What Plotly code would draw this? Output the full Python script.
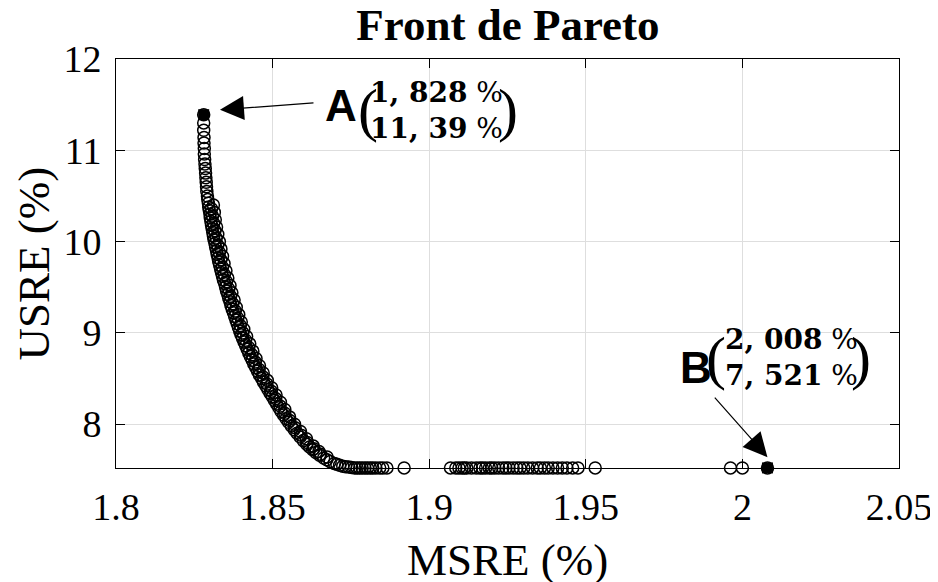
import plotly.graph_objects as go

# Pareto front (MSRE %, USRE %)
curve_x = [1.8280, 1.8280, 1.8280, 1.8281, 1.8281, 1.8282, 1.8282, 1.8283, 1.8284, 1.8285,
           1.8286, 1.8287, 1.8288, 1.8289, 1.8290, 1.8292, 1.8293, 1.8295, 1.8296, 1.8298,
           1.8300, 1.8301, 1.8303, 1.8305, 1.8307, 1.8309, 1.8311, 1.8313, 1.8316, 1.8318,
           1.8321, 1.8323, 1.8326, 1.8328, 1.8331, 1.8334, 1.8337, 1.8340, 1.8343, 1.8347,
           1.8350, 1.8353, 1.8357, 1.8360, 1.8364, 1.8367, 1.8371, 1.8375, 1.8379, 1.8383,
           1.8387, 1.8391, 1.8395, 1.8399, 1.8404, 1.8409, 1.8414, 1.8419, 1.8424, 1.8429,
           1.8435, 1.8440, 1.8446, 1.8452, 1.8458, 1.8465, 1.8471, 1.8478, 1.8485, 1.8492,
           1.8499, 1.8506, 1.8513, 1.8520, 1.8527, 1.8535, 1.8543, 1.8551, 1.8560, 1.8569,
           1.8578, 1.8588, 1.8598, 1.8609, 1.8618, 1.8628, 1.8638, 1.8650, 1.8663, 1.8673,
           1.8684, 1.8697, 1.8705, 1.8714, 1.8724, 1.8733, 1.8743, 1.8752]
curve_y = [11.39, 11.30, 11.22, 11.14, 11.08, 11.02, 10.96, 10.90, 10.85, 10.80,
           10.75, 10.70, 10.65, 10.60, 10.55, 10.50, 10.46, 10.42, 10.38, 10.34,
           10.30, 10.26, 10.22, 10.18, 10.14, 10.10, 10.06, 10.02, 9.98, 9.94,
           9.90, 9.86, 9.82, 9.78, 9.74, 9.70, 9.66, 9.62, 9.58, 9.54,
           9.50, 9.46, 9.42, 9.38, 9.34, 9.30, 9.26, 9.22, 9.18, 9.14,
           9.10, 9.06, 9.02, 8.98, 8.94, 8.90, 8.86, 8.82, 8.78, 8.74,
           8.70, 8.66, 8.62, 8.58, 8.54, 8.50, 8.46, 8.42, 8.38, 8.34,
           8.30, 8.26, 8.22, 8.18, 8.14, 8.10, 8.06, 8.02, 7.98, 7.94,
           7.90, 7.86, 7.82, 7.78, 7.75, 7.72, 7.69, 7.66, 7.63, 7.61,
           7.59, 7.57, 7.56, 7.55, 7.54, 7.535, 7.53, 7.525]

# shifted tracks of solutions that make the band thick
band_x = [1.8311, 1.8314, 1.8317, 1.8321, 1.8325, 1.8330, 1.8335, 1.8340, 1.8345, 1.8351,
          1.8357, 1.8364, 1.8370, 1.8377, 1.8384, 1.8392, 1.8400, 1.8408, 1.8417, 1.8427,
          1.8437, 1.8447, 1.8458, 1.8470, 1.8483, 1.8497, 1.8511, 1.8525, 1.8539, 1.8554,
          1.8570, 1.8589, 1.8608, 1.8630, 1.8648, 1.8674]
band_y = [10.40, 10.32, 10.24, 10.16, 10.08, 10.00, 9.92, 9.84, 9.76, 9.68,
          9.60, 9.52, 9.44, 9.36, 9.28, 9.20, 9.12, 9.04, 8.96, 8.88,
          8.80, 8.72, 8.64, 8.56, 8.48, 8.40, 8.32, 8.24, 8.16, 8.08,
          8.00, 7.92, 7.84, 7.76, 7.70, 7.64]
mid_x = [1.8305, 1.8308, 1.8312, 1.8316, 1.8320, 1.8325, 1.8330, 1.8335, 1.8340, 1.8346,
         1.8353, 1.8360, 1.8366, 1.8373, 1.8381, 1.8389, 1.8397, 1.8405, 1.8414, 1.8424,
         1.8434, 1.8445, 1.8457, 1.8469, 1.8482, 1.8496, 1.8510, 1.8524, 1.8539, 1.8555,
         1.8572, 1.8591, 1.8611, 1.8632, 1.8653]
mid_y = [10.36, 10.28, 10.20, 10.12, 10.04, 9.96, 9.88, 9.80, 9.72, 9.64,
         9.56, 9.48, 9.40, 9.32, 9.24, 9.16, 9.08, 9.00, 8.92, 8.84,
         8.76, 8.68, 8.60, 8.52, 8.44, 8.36, 8.28, 8.20, 8.12, 8.04,
         7.96, 7.88, 7.80, 7.73, 7.67]

# points lying on the USRE floor
floor_x = [1.8762, 1.8770, 1.8778, 1.8786, 1.8795, 1.8803, 1.8812, 1.8820, 1.8830, 1.8842,
           1.8852, 1.8865, 1.8920, 1.9068, 1.9085, 1.9095, 1.9105, 1.9112, 1.9120, 1.9135,
           1.9150, 1.9162, 1.9170, 1.9180, 1.9192, 1.9200, 1.9210, 1.9222, 1.9235, 1.9245,
           1.9255, 1.9268, 1.9280, 1.9290, 1.9302, 1.9315, 1.9330, 1.9345, 1.9355, 1.9368,
           1.9380, 1.9395, 1.9410, 1.9425, 1.9440, 1.9458, 1.9475, 1.9530, 1.9962, 2.0000,
           2.0080]
floor_y = [7.521] * len(floor_x)

# extreme points
ext_names = ["A", "B"]
ext_x = [1.828, 2.008]
ext_y = [11.39, 7.521]

x_ticks = [1.8, 1.85, 1.9, 1.95, 2.0, 2.05]
x_ticktext = ["1.8", "1.85", "1.9", "1.95", "2", "2.05"]
y_ticks = [8, 9, 10, 11, 12]

serif = "Liberation Serif"

fig = go.Figure()
fig.add_trace(go.Scatter(
    x=curve_x + band_x + mid_x + floor_x, y=curve_y + band_y + mid_y + floor_y,
    mode="markers",
    marker=dict(symbol="circle-open", size=12, color="black", line=dict(width=1.5)),
    cliponaxis=False, showlegend=False))
fig.add_trace(go.Scatter(
    x=ext_x, y=ext_y, mode="markers",
    marker=dict(symbol="square", size=11, color="black"),
    cliponaxis=False, showlegend=False))

axis_common = dict(
    showline=True, linecolor="black", linewidth=1, mirror="ticks",
    ticks="inside", ticklen=9, tickcolor="black", tickwidth=1,
    showgrid=True, gridcolor="#dedede", gridwidth=1, zeroline=False,
    automargin=False,
    tickfont=dict(family=serif, size=38, color="black"),
)

# the page body adds an 8 px offset, margins compensate for it
fig.update_layout(
    width=938, height=582,
    paper_bgcolor="white", plot_bgcolor="white",
    margin=dict(l=108, r=47, t=51, b=122),
    title=dict(text="<b>Front de Pareto</b>", x=0.533, xanchor="center",
               y=0.9725, yanchor="middle", yref="container",
               font=dict(family=serif, size=45, color="black")),
    xaxis=dict(range=[1.8, 2.05], tickvals=x_ticks, ticktext=x_ticktext,
               ticklabelstandoff=5, **axis_common),
    yaxis=dict(range=[7.52, 12], tickvals=y_ticks, ticklabelstandoff=6,
               **axis_common),
)

title_font = dict(family=serif, size=45, color="black")
fig.add_annotation(x=0.5, y=-0.225, xref="paper", yref="paper", text="MSRE (%)",
                   showarrow=False, font=title_font, xanchor="center", yanchor="middle")
fig.add_annotation(x=-0.106, y=0.5, xref="paper", yref="paper", text="USRE (%)",
                   textangle=-90, showarrow=False, font=title_font,
                   xanchor="center", yanchor="middle")

# labels for the extreme points
num_font = dict(family="DejaVu Serif", size=28, color="black")
par_font = dict(family=serif, size=60, color="black")
lab_font = dict(family="Liberation Sans", size=44, color="black")

fig.add_annotation(x=1.8332, y=11.443, ax=95, ay=-7, text="", showarrow=True,
                   arrowhead=2, arrowsize=4, arrowwidth=1.2, arrowcolor="black")
fig.add_annotation(x=2.008, y=7.639, ax=-54, ay=-61, text="", showarrow=True,
                   arrowhead=2, arrowsize=4, arrowwidth=1.2, arrowcolor="black")

labels = [
    (ext_names[0], 0.2874, 0.8875, "<b>1, 828</b> %<br><b>11, 39</b> %", 0.3218, 0.4087, 0.5006, 0.8753),
    (ext_names[1], 0.7407, 0.2445, "<b>2, 008</b> %<br><b>7, 521</b> %", 0.7663, 0.8633, 0.9515, 0.2700),
]
for name, lx, ly, txt, px0, nx, px1, py in labels:
    fig.add_annotation(x=lx, y=ly, xref="paper", yref="paper", text="<b>%s</b>" % name,
                       showarrow=False, font=lab_font, xanchor="center", yanchor="middle")
    fig.add_annotation(x=px0, y=py, xref="paper", yref="paper", text="(",
                       showarrow=False, font=par_font, xanchor="center", yanchor="middle")
    fig.add_annotation(x=nx, y=py, xref="paper", yref="paper", text=txt, align="left",
                       showarrow=False, font=num_font, xanchor="center", yanchor="middle")
    fig.add_annotation(x=px1, y=py, xref="paper", yref="paper", text=")",
                       showarrow=False, font=par_font, xanchor="center", yanchor="middle")

fig.write_html("out.html")
